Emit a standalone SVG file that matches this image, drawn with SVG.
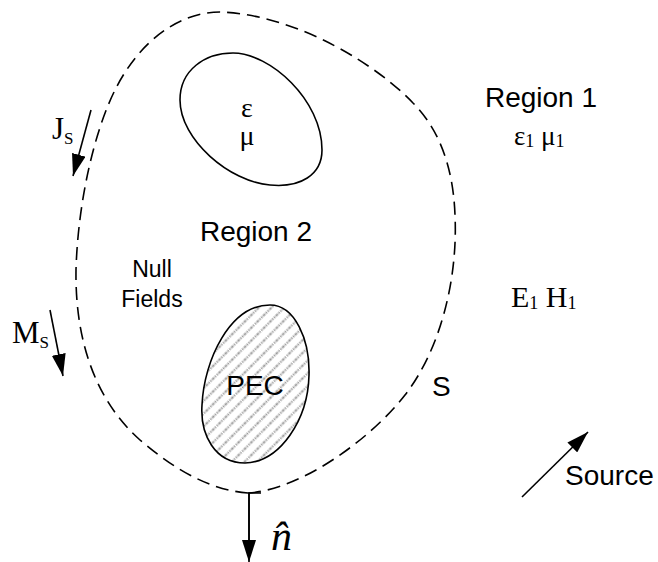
<svg xmlns="http://www.w3.org/2000/svg" width="658" height="562" viewBox="0 0 658 562">
<style>
.sans{font-family:"Liberation Sans",Arial,sans-serif;fill:#000}
.serif{font-family:"Liberation Serif","Times New Roman",serif;fill:#000}
.solid{fill:none;stroke:#000;stroke-width:1.6}
.dash{fill:none;stroke:#000;stroke-width:1.6;stroke-dasharray:13 7}
.arrow{fill:none;stroke:#000;stroke-width:1.6;marker-end:url(#ah)}
</style>
<defs>
<marker id="ah" viewBox="0 0 22 14" refX="22" refY="7" markerWidth="22" markerHeight="14" orient="auto" markerUnits="userSpaceOnUse">
<path d="M0,0 L22,7 L0,14 Z" fill="#000"/>
</marker>
<pattern id="hatch" width="9" height="9" patternUnits="userSpaceOnUse" patternTransform="rotate(-45)">
<rect width="9" height="9" fill="#fff"/>
<line x1="0" y1="4.5" x2="9" y2="4.5" stroke="#9a9a9a" stroke-width="2.2" stroke-dasharray="1.5 1"/>
</pattern>
</defs>
<rect width="658" height="562" fill="#fff"/>

<g id="surface-S">
<path class="dash" d="M248,493 C300,490 370,440 405,395 C440,350 458,280 455,215 C453,160 435,125 413,103 C380,68 300,15 220,12 C180,12 140,40 115,90 C95,130 78,200 76,270 C75,340 95,400 140,440 C175,470 210,490 248,493 Z"/>
<text class="sans" x="432" y="396" font-size="28">S</text>
</g>

<g id="region-eps-mu">
<path class="solid" d="M233,53 C270,53 322,100 322,150 C322,175 300,188 270,185 C230,182 180,140 180,100 C180,70 205,53 233,53 Z"/>
<text class="serif" x="247" y="117" font-size="28" text-anchor="middle">ε</text>
<text class="serif" x="247" y="145" font-size="28" text-anchor="middle">μ</text>
</g>

<g id="pec">
<path d="M270,305 C295,305 310,340 309,375 C308,420 280,462 245,463 C215,463 200,435 202,405 C204,360 230,305 270,305 Z" fill="url(#hatch)" stroke="#000" stroke-width="1.6"/>
<text class="sans" x="255" y="395" font-size="28" text-anchor="middle">PEC</text>
</g>

<g id="region-2">
<text class="sans" x="256" y="241" font-size="28" text-anchor="middle">Region 2</text>
</g>

<g id="null-fields">
<text class="sans" x="152" y="277" font-size="23" text-anchor="middle">Null</text>
<text class="sans" x="152" y="307" font-size="23" text-anchor="middle">Fields</text>
</g>

<g id="region-1">
<text class="sans" x="541" y="107" font-size="28" text-anchor="middle">Region 1</text>
<text class="serif" x="514" y="145" font-size="27">ε<tspan font-size="18" dy="2">1</tspan><tspan dy="-2"> μ</tspan><tspan font-size="18" dy="2">1</tspan></text>
</g>

<g id="fields-E1H1">
<text class="serif" x="511" y="307" font-size="30">E<tspan font-size="18" dy="2">1</tspan><tspan dy="-2"> H</tspan><tspan font-size="18" dy="2">1</tspan></text>
</g>

<g id="Js">
<text class="serif" x="52" y="139" font-size="31">J<tspan font-size="17" dy="5">S</tspan></text>
</g>

<g id="Ms">
<text class="serif" x="12" y="343" font-size="31">M<tspan font-size="17" dy="5">S</tspan></text>
</g>

<g id="normal-n">
<text class="serif" x="271" y="550" font-size="42" font-style="italic">n&#x302;</text>
</g>

<g id="source">
<text class="sans" x="565" y="485" font-size="28">Source</text>
</g>

<g id="connectors">
<path class="arrow" d="M91,110 L73,176"/>
<path class="arrow" d="M50,310 L63,376"/>
<path class="solid" d="M261,493 H249 V545"/>
<path class="arrow" d="M249,493 L249,562"/>
<path class="arrow" d="M522,497 L588,432"/>
</g>
</svg>
